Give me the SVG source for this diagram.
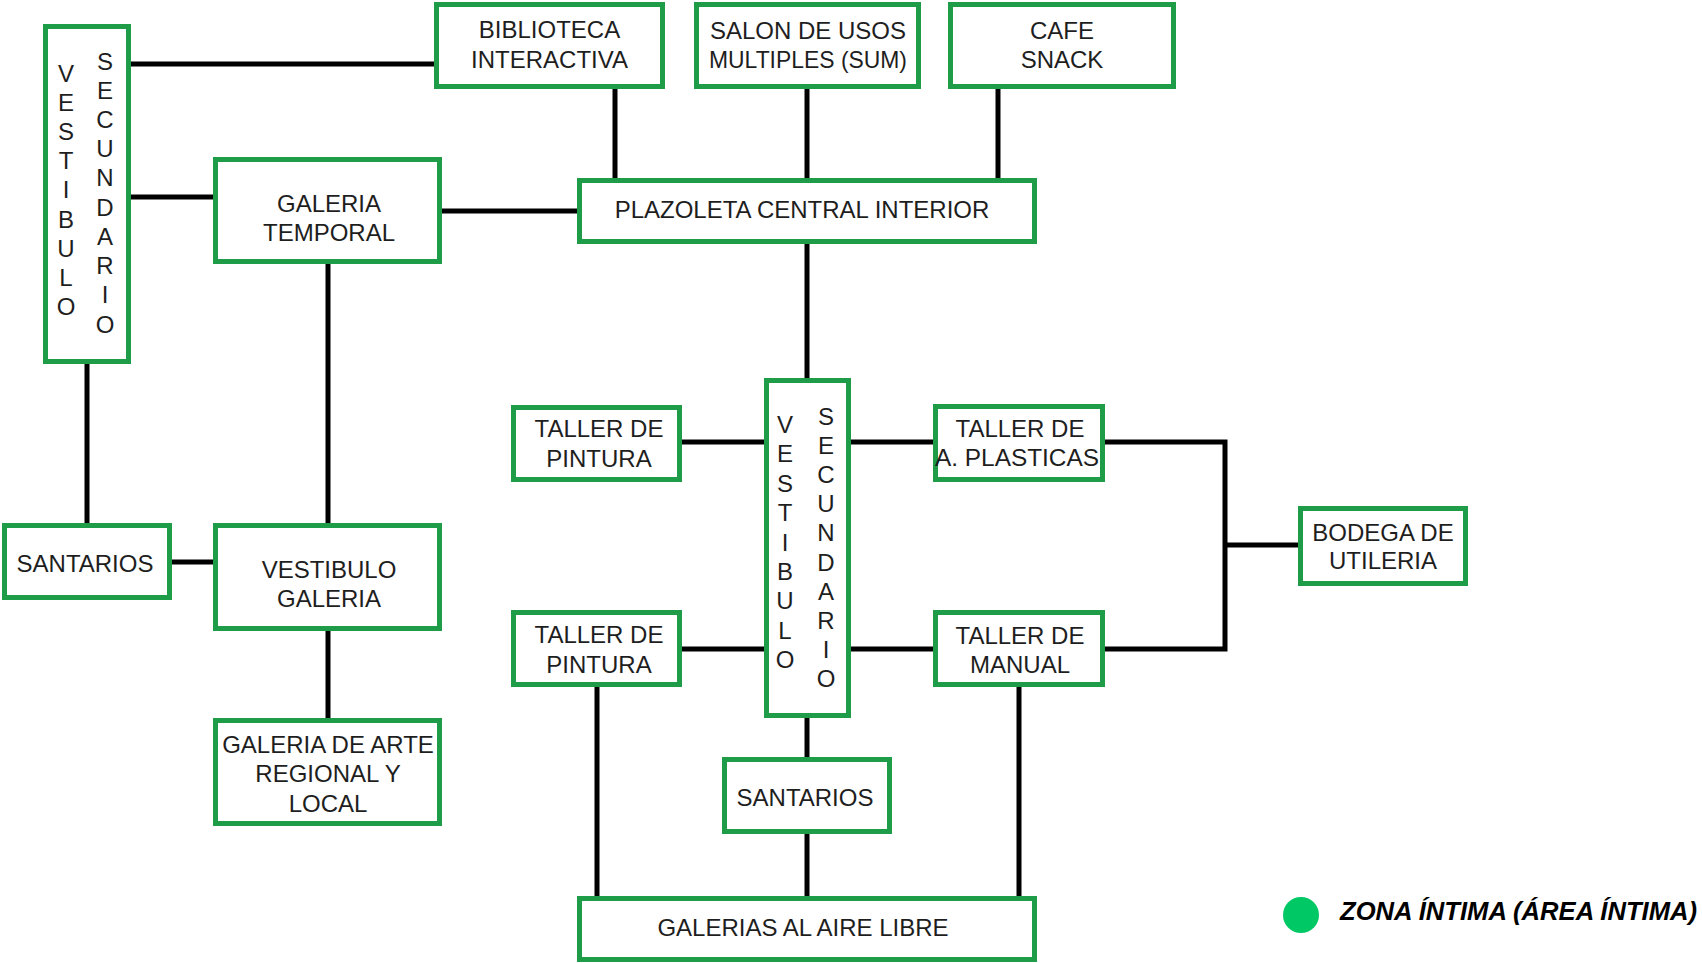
<svg xmlns="http://www.w3.org/2000/svg" width="1702" height="963" viewBox="0 0 1702 963">
<style>
.box{fill:#fff;stroke:#1f9c48;stroke-width:5}
.ln{fill:none;stroke:#000;stroke-width:5}
text{font-family:"Liberation Sans",Arial,sans-serif;font-size:24px;fill:#1e1e1e;text-anchor:middle}
.leg{font-weight:bold;font-style:italic;font-size:25px;fill:#000;text-anchor:start}
</style>
<rect width="1702" height="963" fill="#fff"/>
<g id="connectors">
<path class="ln" d="M131 64H434"/>
<path class="ln" d="M131 197H213"/>
<path class="ln" d="M442 211H577"/>
<path class="ln" d="M615 89V178"/>
<path class="ln" d="M807 89V178"/>
<path class="ln" d="M998 89V178"/>
<path class="ln" d="M807 244V378"/>
<path class="ln" d="M87 364V523"/>
<path class="ln" d="M328 264V523"/>
<path class="ln" d="M172 562H213"/>
<path class="ln" d="M328 631V718"/>
<path class="ln" d="M682 442H764"/>
<path class="ln" d="M682 649H764"/>
<path class="ln" d="M851 442H933"/>
<path class="ln" d="M851 649H933"/>
<path class="ln" d="M1105 442H1225V649H1105"/>
<path class="ln" d="M1225 545H1298"/>
<path class="ln" d="M807 718V757"/>
<path class="ln" d="M807 834V896"/>
<path class="ln" d="M597 687V896"/>
<path class="ln" d="M1019 687V896"/>
</g>
<g id="vestibulo-sec-1">
<rect class="box" x="45.5" y="26.5" width="83" height="335"/>
<text><tspan x="66" y="82">V</tspan><tspan x="66" y="111">E</tspan><tspan x="66" y="140">S</tspan><tspan x="66" y="169">T</tspan><tspan x="66" y="198">I</tspan><tspan x="66" y="228">B</tspan><tspan x="66" y="257">U</tspan><tspan x="66" y="286">L</tspan><tspan x="66" y="315">O</tspan></text>
<text><tspan x="105" y="70">S</tspan><tspan x="105" y="99">E</tspan><tspan x="105" y="128">C</tspan><tspan x="105" y="157">U</tspan><tspan x="105" y="186">N</tspan><tspan x="105" y="216">D</tspan><tspan x="105" y="245">A</tspan><tspan x="105" y="274">R</tspan><tspan x="105" y="303">I</tspan><tspan x="105" y="333">O</tspan></text>
</g>
<g id="biblioteca">
<rect class="box" x="436.5" y="4.5" width="226" height="82"/>
<text x="549.5" y="38">BIBLIOTECA</text>
<text x="549.5" y="68">INTERACTIVA</text>
</g>
<g id="sum">
<rect class="box" x="696.5" y="4.5" width="222" height="82"/>
<text x="808" y="39">SALON DE USOS</text>
<text x="808" y="68" textLength="198" lengthAdjust="spacingAndGlyphs">MULTIPLES (SUM)</text>
</g>
<g id="cafe">
<rect class="box" x="950.5" y="4.5" width="223" height="82"/>
<text x="1062" y="39">CAFE</text>
<text x="1062" y="68">SNACK</text>
</g>
<g id="plazoleta">
<rect class="box" x="579.5" y="180.5" width="455" height="61"/>
<text x="802" y="218">PLAZOLETA CENTRAL INTERIOR</text>
</g>
<g id="galeria-temporal">
<rect class="box" x="215.5" y="159.5" width="224" height="102"/>
<text x="329" y="212">GALERIA</text>
<text x="329" y="241">TEMPORAL</text>
</g>
<g id="santarios-1">
<rect class="box" x="4.5" y="525.5" width="165" height="72"/>
<text x="85" y="572">SANTARIOS</text>
</g>
<g id="vestibulo-galeria">
<rect class="box" x="215.5" y="525.5" width="224" height="103"/>
<text x="329" y="578">VESTIBULO</text>
<text x="329" y="607">GALERIA</text>
</g>
<g id="galeria-arte">
<rect class="box" x="215.5" y="720.5" width="224" height="103"/>
<text x="328" y="753">GALERIA DE ARTE</text>
<text x="328" y="782">REGIONAL Y</text>
<text x="328" y="812">LOCAL</text>
</g>
<g id="vestibulo-sec-2">
<rect class="box" x="766.5" y="380.5" width="82" height="335"/>
<text><tspan x="785" y="433">V</tspan><tspan x="785" y="462">E</tspan><tspan x="785" y="492">S</tspan><tspan x="785" y="521">T</tspan><tspan x="785" y="551">I</tspan><tspan x="785" y="580">B</tspan><tspan x="785" y="609">U</tspan><tspan x="785" y="639">L</tspan><tspan x="785" y="668">O</tspan></text>
<text><tspan x="826" y="425">S</tspan><tspan x="826" y="454">E</tspan><tspan x="826" y="483">C</tspan><tspan x="826" y="512">U</tspan><tspan x="826" y="541">N</tspan><tspan x="826" y="571">D</tspan><tspan x="826" y="600">A</tspan><tspan x="826" y="629">R</tspan><tspan x="826" y="658">I</tspan><tspan x="826" y="687">O</tspan></text>
</g>
<g id="taller-pintura-1">
<rect class="box" x="513.5" y="407.5" width="166" height="72"/>
<text x="599" y="437">TALLER DE</text>
<text x="599" y="467">PINTURA</text>
</g>
<g id="taller-pintura-2">
<rect class="box" x="513.5" y="612.5" width="166" height="72"/>
<text x="599" y="643">TALLER DE</text>
<text x="599" y="673">PINTURA</text>
</g>
<g id="taller-plasticas">
<rect class="box" x="935.5" y="406.5" width="167" height="73"/>
<text x="1020" y="437">TALLER DE</text>
<text x="1017" y="466" textLength="164" lengthAdjust="spacingAndGlyphs">A. PLASTICAS</text>
</g>
<g id="taller-manual">
<rect class="box" x="935.5" y="612.5" width="167" height="72"/>
<text x="1020" y="644">TALLER DE</text>
<text x="1020" y="673">MANUAL</text>
</g>
<g id="bodega">
<rect class="box" x="1300.5" y="508.5" width="165" height="75"/>
<text x="1383" y="541">BODEGA DE</text>
<text x="1383" y="569">UTILERIA</text>
</g>
<g id="santarios-2">
<rect class="box" x="724.5" y="759.5" width="165" height="72"/>
<text x="805" y="806">SANTARIOS</text>
</g>
<g id="galerias-aire-libre">
<rect class="box" x="579.5" y="898.5" width="455" height="61"/>
<text x="803" y="936">GALERIAS AL AIRE LIBRE</text>
</g>
<g id="legend">
<circle cx="1301" cy="915" r="18" fill="#00c864"/>
<text class="leg" x="1340" y="920" textLength="357" lengthAdjust="spacingAndGlyphs">ZONA ÍNTIMA (ÁREA ÍNTIMA)</text>
</g>
</svg>
